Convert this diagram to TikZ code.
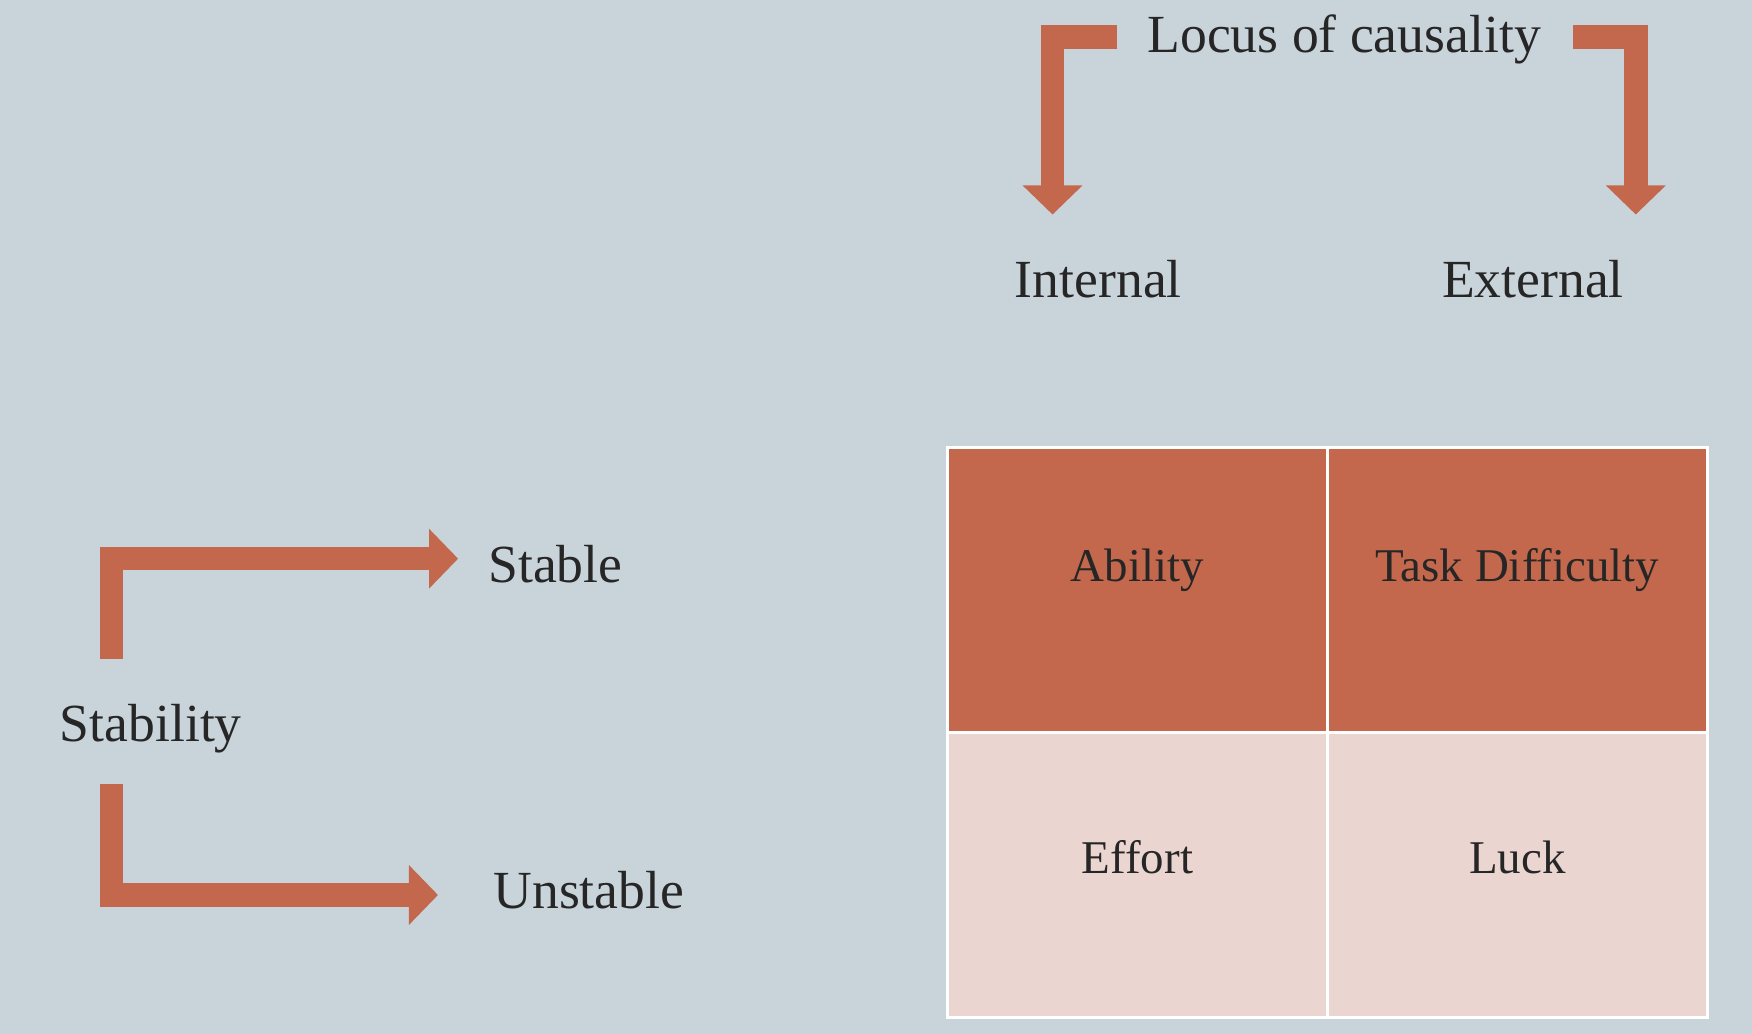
\documentclass[tikz,border=0pt]{standalone}
\usepackage{fontspec}
\setmainfont{Liberation Serif}
\usetikzlibrary{arrows.meta}
\definecolor{bg}{HTML}{C9D3DA}
\definecolor{rust}{HTML}{C4684D}
\definecolor{pinkc}{HTML}{EBD5D0}
\tikzset{
  barrow/.style={draw=rust,line width=21pt,line join=miter,-{Triangle[width=52pt,length=26pt]}},
  cell/.style={draw=white,line width=3pt,minimum width=340pt,minimum height=255pt,inner sep=0pt},
  ctext/.style={font=\fontsize{42}{46}\selectfont,text=black!85,inner sep=0pt},
  lbl/.style={font=\fontsize{48}{52}\selectfont,text=black!85,inner sep=0pt}
}
\begin{document}
\begin{tikzpicture}[x=1pt,y=-1pt]
\fill[bg] (0,0) rectangle (1568,925);
\useasboundingbox (0,0) rectangle (1568,925);
\node[cell,fill=rust] (ab) at (1018,528) {};
\node[cell,fill=rust] (td) at (1358,528) {};
\node[cell,fill=pinkc] (ef) at (1018,783) {};
\node[cell,fill=pinkc] (lu) at (1358,783) {};
\node[ctext] (abt) at (1018,510) {Ability};
\node[ctext] (tdt) at (1358,510) {Task Difficulty};
\node[ctext] (eft) at (1018,767) {Effort};
\node[ctext] (lut) at (1358,767) {Luck};
\node[lbl] (loc) at (1203,35) {Locus of causality};
\node[lbl] (int) at (983,250) {Internal};
\node[lbl] (ext) at (1372,250) {External};
\node[lbl] (st) at (497,505) {Stable};
\node[lbl] (un) at (527,797) {Unstable};
\node[lbl] (sy) at (135,652) {Stability};
\coordinate (a1) at (1000,33); \coordinate (a1e) at (942,192);
\coordinate (a2) at (1408,33); \coordinate (a2e) at (1464,192);
\coordinate (b1) at (100,590); \coordinate (b1e) at (410,500);
\coordinate (b2) at (100,702); \coordinate (b2e) at (392,801);
\draw[barrow] (a1) -| (a1e);
\draw[barrow] (a2) -| (a2e);
\draw[barrow] (b1) |- (b1e);
\draw[barrow] (b2) |- (b2e);
\end{tikzpicture}
\end{document}
